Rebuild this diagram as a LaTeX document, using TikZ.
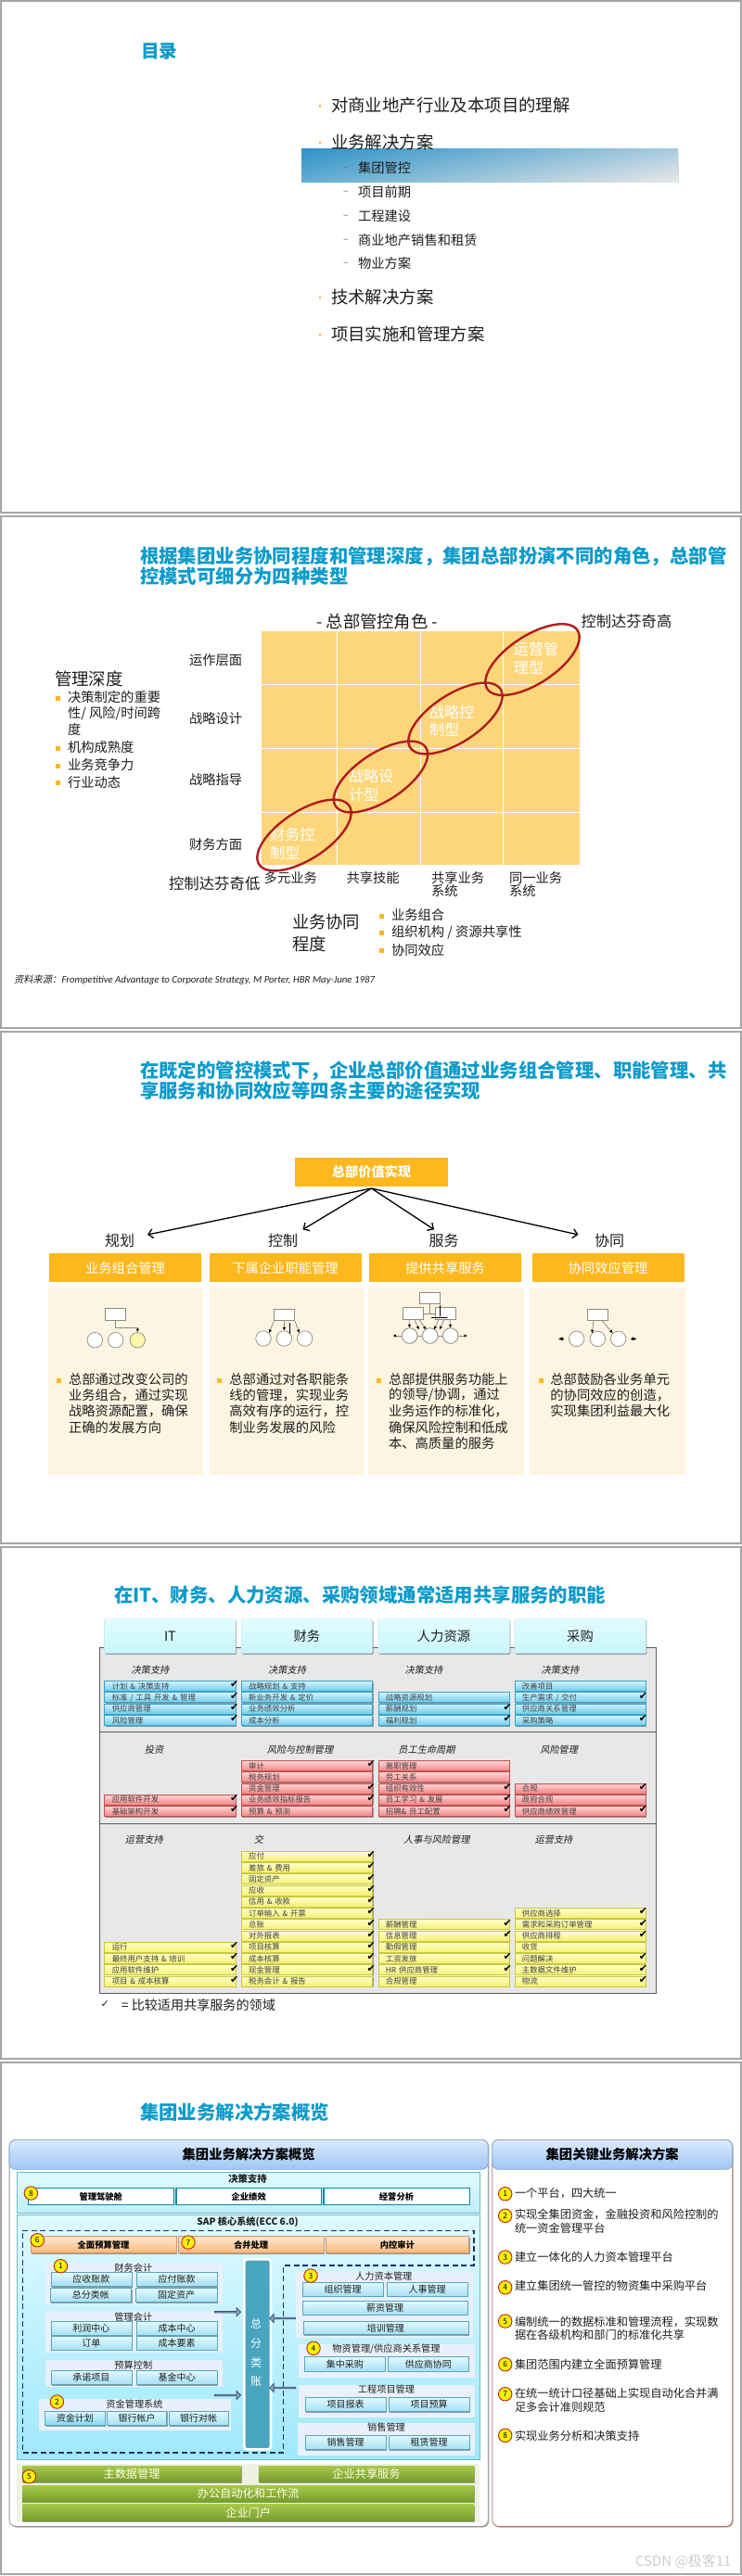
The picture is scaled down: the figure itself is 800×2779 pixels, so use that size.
\documentclass[tikz,border=0pt]{standalone}
\usepackage{fontspec}
\setmainfont{Noto Sans CJK SC}
\newfontfamily\djv{DejaVu Sans}
\newfontfamily\cjksl[FakeSlant=0.2]{Noto Sans CJK SC}
\newfontfamily\carit{Carlito}
\usetikzlibrary{arrows.meta,shapes.geometric,shapes.arrows,shadows}
\definecolor{ink}{HTML}{1E1E1E}
\definecolor{ttl}{HTML}{0C9BCB}
\definecolor{frameg}{HTML}{A6A6A6}
\definecolor{ambr}{HTML}{FDB81E}
\definecolor{gridy}{HTML}{FDD67A}
\definecolor{creamy}{HTML}{FDF5E2}
\definecolor{ringr}{HTML}{B01C1E}
\definecolor{iconl}{HTML}{8C8C80}
\definecolor{bluebd}{HTML}{3BA3C6}
\definecolor{bluetop}{HTML}{D6F2FF}
\definecolor{bluebot}{HTML}{69CDEE}
\definecolor{redbd}{HTML}{C05050}
\definecolor{redtop}{HTML}{FFD6D6}
\definecolor{redbot}{HTML}{F48282}
\definecolor{yelbd}{HTML}{C8C840}
\definecolor{yeltop}{HTML}{FFFFCD}
\definecolor{yelbot}{HTML}{F5F06E}
\definecolor{btnbd}{HTML}{5AA5B9}
\definecolor{btntop}{HTML}{E2F9FF}
\definecolor{btnbot}{HTML}{A5E0F2}
\definecolor{btnbotb}{HTML}{82D7F0}
\definecolor{orgbd}{HTML}{D79664}
\definecolor{orgtop}{HTML}{FDE8D0}
\definecolor{orgbot}{HTML}{FCB87A}
\definecolor{wbd}{HTML}{0A87A5}
\definecolor{grntop}{HTML}{A6C84A}
\definecolor{grnbot}{HTML}{769B2C}
\definecolor{numbd}{HTML}{BE1E1E}
\definecolor{numfl}{HTML}{FFF200}
\definecolor{chtop}{HTML}{E2FDFF}
\definecolor{chbot}{HTML}{C8F5FA}
\definecolor{chbd}{HTML}{BEE1E8}
\definecolor{rowfl}{HTML}{E8E8E8}
\definecolor{rowbd}{HTML}{5A5A5A}
\definecolor{barbd}{HTML}{3C506E}
\definecolor{barfl}{HTML}{8EA5C3}
\definecolor{bandtl}{HTML}{2F92C8}
\definecolor{bandbl}{HTML}{62ACD2}
\definecolor{bandtr}{HTML}{A8CBE0}
\definecolor{bandbr}{HTML}{E6E6E6}
\definecolor{icony}{HTML}{FAF8AA}
\definecolor{panbd}{HTML}{969696}
\definecolor{headbd}{HTML}{78A5CD}
\definecolor{headtop}{HTML}{DCEAFC}
\definecolor{headbot}{HTML}{A0C6F4}
\definecolor{dsbd}{HTML}{6EB9C3}
\definecolor{dstop}{HTML}{E1FAFF}
\definecolor{dsbot}{HTML}{BEF0FA}
\definecolor{saptop}{HTML}{DEFAFF}
\definecolor{sapbot}{HTML}{A0E8FC}
\definecolor{grpfl}{HTML}{E8F1FB}
\definecolor{ledg}{HTML}{48A5C0}
\definecolor{dashn}{HTML}{163264}
\definecolor{greenbg}{HTML}{EEF2E0}
\definecolor{redpan}{HTML}{BE6E6E}
\definecolor{wmark}{HTML}{CDCDCD}
\newcounter{tn}
\tikzset{
 txt/.style={anchor=west,inner sep=0pt,outer sep=0pt,text=ink},
 softshadow/.style={drop shadow={shadow xshift=1pt,shadow yshift=-1.2pt,opacity=.35,fill=black}},
 itemb/.style={draw=#1,line width=.7pt,inner ysep=0pt,inner xsep=8pt,anchor=west,minimum height=11pt,text width=125.5pt,align=left,text=ink!85,font=\fontsize{8.4}{8.4}\selectfont,softshadow},
 itemblue/.style={itemb=bluebd,top color=bluetop,bottom color=bluebot},
 itemred/.style={itemb=redbd,top color=redtop,bottom color=redbot},
 itemyel/.style={itemb=yelbd,top color=yeltop,bottom color=yelbot},
 chk/.style={anchor=center,inner sep=0pt,text=black,font=\djv\fontsize{11}{11}\selectfont},
 grp/.style={fill=grpfl,draw=none,anchor=north west,inner sep=0pt},
 btn/.style={anchor=north west,inner sep=0pt,draw=btnbd,line width=.7pt,top color=btntop,bottom color=btnbot,softshadow,text=ink,font=\fontsize{10}{10}\selectfont},
 orng/.style={anchor=north west,inner sep=0pt,draw=orgbd,line width=.6pt,top color=orgtop,bottom color=orgbot,softshadow,text=black,font=\bfseries\fontsize{9.3}{9.3}\selectfont},
 wbtn/.style={anchor=north west,inner sep=0pt,draw=wbd,line width=1.2pt,fill=white,text=black,font=\bfseries\fontsize{9.3}{9.3}\selectfont},
 grn/.style={anchor=north west,inner sep=0pt,draw=none,top color=grntop,bottom color=grnbot,softshadow,text=white!90!yellow,font=\fontsize{12.2}{12.2}\selectfont},
 numc/.style={circle,draw=numbd,line width=.9pt,fill=numfl,inner sep=0pt,minimum size=14.5pt,text=black,font=\fontsize{8.5}{8.5}\selectfont},
 hdrbox/.style={anchor=north west,inner sep=0pt,fill=ambr,text=white,draw=white,line width=2pt,drop shadow={shadow xshift=.6pt,shadow yshift=-.8pt,opacity=.3,fill=black}},
 colhead/.style={anchor=north west,inner sep=0pt,rounded corners=1pt,top color=chtop,bottom color=chbot,draw=chbd,line width=.5pt,softshadow,text=ink,font=\fontsize{14.3}{14.3}\selectfont},
 rowpan/.style={anchor=north west,inner sep=0pt,fill=rowfl,draw=rowbd,line width=.9pt},
 blockR/.style={single arrow,draw=barbd,line width=.8pt,fill=barfl,inner sep=0pt,minimum width=9pt,minimum height=28pt,single arrow head extend=2pt,single arrow head indent=0pt},
 iconbox/.style={draw=iconl,fill=white,line width=.8pt,inner sep=0pt,minimum width=22pt,minimum height=12.5pt},
 iconc/.style={circle,draw=iconl,fill=white,line width=.7pt,inner sep=0pt,minimum size=16.5pt},
 iconar/.style={draw=iconl,line width=.8pt,-{Latex[length=3.5pt,width=3.5pt,black]}},
 iconln/.style={draw=iconl,line width=.8pt},
 sidear/.style={black,line width=.5pt,-{Latex[length=5pt,width=4pt,black]}},
 ringst/.style={ellipse,draw=ringr,line width=2.4pt,rotate=33,inner sep=0pt,minimum width=116pt,minimum height=52pt},
 bigarrow/.style={draw=black,line width=1.3pt,-{Straight Barb[length=5pt,width=10pt,line width=1.3pt]}},
 bul/.style={fill=ambr,inner sep=0pt,minimum width=#1,minimum height=#1,anchor=center,draw=none},
}
\newcommand{\TX}[5][]{\stepcounter{tn}\node[txt,font=\fontsize{#4}{#4}\selectfont,#1] (t\thetn) at (#2,#3) {#5};}
\newcommand{\TTL}[3]{\TX[text=ttl,font=\bfseries\fontsize{20.4}{20.4}\selectfont]{#1}{#2}{20.4}{#3}}
\newcommand{\BXX}[6]{\pgfmathsetmacro\bw{#3-(#1)}\pgfmathsetmacro\bh{#4-(#2)}\stepcounter{tn}\node[#5,minimum width=\bw pt,minimum height=\bh pt] (b\thetn) at (#1,#2) {#6};}
\newcommand{\BU}[3]{\stepcounter{tn}\node[bul=#3pt] (u\thetn) at (#1,#2) {};}
\newcommand{\NUM}[3]{\stepcounter{tn}\node[numc] (n\thetn) at (#1,#2) {#3};}
\newcommand{\colL}[1]{\ifcase#1\or112.4\or259.8\or407.5\or554.5\fi}
\newcommand{\colR}[1]{\ifcase#1\or252.8\or400.2\or547.2\or693.5\fi}
\newcommand{\ITM}[5]{\stepcounter{tn}\node[#1] (i\thetn) at (\colL{#2},#3) {#4};\ifnum#5=1 \node[chk] (k\thetn) at (\colR{#2},#3-1.5) {✔};\fi}
\newcommand{\IB}[4]{\pgfmathsetmacro\yy{1819+12.3*#2}\ITM{itemblue}{#1}{\yy}{#3}{#4}}
\newcommand{\IR}[4]{\pgfmathsetmacro\yy{1905+12.25*#2}\ITM{itemred}{#1}{\yy}{#3}{#4}}
\newcommand{\IY}[4]{\pgfmathsetmacro\yy{2002.7+12.24*#2}\ITM{itemyel}{#1}{\yy}{#3}{#4}}
\newcommand{\SEC}[3]{\TX[anchor=center,font=\cjksl\fontsize{10.2}{10.2}\selectfont]{#1}{#2}{10.2}{#3}}
\begin{document}
\begin{tikzpicture}[x=1pt,y=-1pt]
\useasboundingbox (0,0) rectangle (800,2779);
\fill[white] (0,0) rectangle (800,2779);
\foreach \a/\b in {1/553,557/1109,1113/1665,1669/2221,2225/2777}
  \draw[frameg,line width=2pt] (1,\a) rectangle (799,\b);

%% ---- slide 1
\TX[text=ttl,font=\bfseries\fontsize{19.6}{19.6}\selectfont]{152}{55}{19.6}{目录}
\foreach \i in {0,...,17}{
  \pgfmathsetmacro\pct{100-\i*100/17}
  \pgfmathsetmacro\yt{160+2*\i}
  \shade[left color=bandtl!\pct!bandbl,right color=bandtr!\pct!bandbr] (325,\yt) rectangle (731,196);
}
\foreach \y/\s in {113.6/对商业地产行业及本项目的理解,153/业务解决方案,320/技术解决方案,360/项目实施和管理方案}{
  \TX{357}{\y}{18.4}{\s}
  \BU{345}{\y+1}{2.4}
}
\foreach \y/\s in {181/集团管控,207/项目前期,233/工程建设,259/商业地产销售和租赁,284/物业方案}{
  \TX{386}{\y}{14.3}{\s}
  \TX[text=ink!70]{370}{\y+1}{10}{–}
}

%% ---- slide 2
\TTL{151}{600}{根据集团业务协同程度和管理深度，集团总部扮演不同的角色，总部管}
\TTL{151}{622}{控模式可细分为四种类型}
\fill[gridy] (282,680.7) rectangle (624.5,933);
\foreach \x in {363,453,542} \draw[white,line width=1pt] (\x,680.7) -- (\x,933);
\foreach \y in {738,807,876} \draw[white,line width=1pt] (282,\y) -- (624.5,\y);
\TX[anchor=center]{406.6}{671}{18.3}{- 总部管控角色 -}
\TX{626.5}{670}{16.3}{控制达芬奇高}
\TX{204}{712.5}{14.3}{运作层面}
\TX{204}{775}{14.3}{战略设计}
\TX{204}{841}{14.3}{战略指导}
\TX{204}{911}{14.3}{财务方面}
\TX{59}{732}{18.4}{管理深度}
\foreach \y/\s in {752.5/决策制定的重要,806/机构成熟度,825/业务竞争力,843.6/行业动态}{
  \TX{73}{\y}{14.3}{\s}
  \BU{62.5}{\y+1}{5}
}
\TX{73}{770}{14.3}{性/ 风险/时间跨}
\TX{73}{787.5}{14.3}{度}
\TX[text=white]{291}{900.7}{16.2}{财务控}
\TX[text=white]{291}{920}{16.2}{制型}
\TX[text=white]{376}{837}{16.2}{战略设}
\TX[text=white]{376}{857}{16.2}{计型}
\TX[text=white]{463}{768}{16.2}{战略控}
\TX[text=white]{463}{787}{16.2}{制型}
\TX[text=white]{553.6}{700.7}{16.2}{运营管}
\TX[text=white]{553.6}{720}{16.2}{理型}
\node[ringst] (ring1) at (328,901) {};
\node[ringst] (ring2) at (410.5,838) {};
\node[ringst] (ring3) at (491,775) {};
\node[ringst] (ring4) at (574,711.6) {};
\TX{182}{953.6}{16.4}{控制达芬奇低}
\TX{284.7}{947}{14.3}{多元业务}
\TX{373.5}{947}{14.3}{共享技能}
\TX{465}{947}{14.3}{共享业务}
\TX{465}{961.4}{14.3}{系统}
\TX{549}{947}{14.3}{同一业务}
\TX{549}{961.4}{14.3}{系统}
\TX{315}{995}{18.3}{业务协同}
\TX{315}{1018}{18.3}{程度}
\TX{422}{987}{14.3}{业务组合}\BU{411}{988}{5}
\TX{422}{1005.7}{14.3}{组织机构 / 资源共享性}\BU{411}{1006.7}{5}
\TX{422}{1024.6}{14.3}{协同效应}\BU{411}{1025.6}{5}
\TX[font=\cjksl\fontsize{10.3}{10.3}\selectfont]{15}{1057}{10.3}{资料来源：{\carit\itshape\fontsize{10.8}{10.8}\selectfont Frompetitive Advantage to Corporate Strategy, M Porter, HBR May-June 1987}}

%% ---- slide 3
\TTL{151}{1155.7}{在既定的管控模式下，企业总部价值通过业务组合管理、职能管理、共}
\TTL{151}{1177}{享服务和协同效应等四条主要的途径实现}
\node[hdrbox,minimum width=167pt,minimum height=33pt,font=\bfseries\fontsize{14.2}{14.2}\selectfont] (top) at (316,1247) {总部价值实现};
\coordinate (a1) at (159,1332);
\coordinate (a2) at (326.5,1326.4);
\coordinate (a3) at (468,1326.4);
\coordinate (a4) at (623.5,1332);
\foreach \c in {a1,a2,a3,a4} \draw[bigarrow] (top.south) -- (\c);
\TX[anchor=center]{129}{1338.6}{16}{规划}
\TX[anchor=center]{305}{1338.6}{16}{控制}
\TX[anchor=center]{478.6}{1338.6}{16}{服务}
\TX[anchor=center]{657}{1338.6}{16}{协同}
\foreach \xa/\xb in {51.5/219.4,225.5/393,397/565,571.4/739} { \fill[creamy] (\xa,1389.3) rectangle (\xb,1590.7); }
\foreach \xa/\s in {51/业务组合管理,223.5/下属企业职能管理,396/提供共享服务,571.5/协同效应管理}{
  \BXX{\xa}{1350.2}{\xa+166}{1383.2}{hdrbox,font=\fontsize{14.3}{14.3}\selectfont}{\s}
}
% icon 1
\node[iconbox] (ia) at (124.5,1418) {};
\node[iconc] (ia1) at (102.3,1445.7) {};
\node[iconc] (ia2) at (124.7,1445.7) {};
\node[iconc,fill=icony] (ia3) at (148.3,1445.7) {};
\coordinate (iaj) at (148.3,1432);
\draw[iconar] (ia.south) |- (iaj) -- (ia3.north);
% icon 2
\node[iconbox] (ib) at (306.7,1418.6) {};
\node[iconc] (ib1) at (284,1444) {};
\node[iconc] (ib2) at (306.3,1444) {};
\node[iconc] (ib3) at (328.7,1444) {};
\draw[iconar] (ib.south west) -- (ib1.north east);
\draw[iconar] (ib.south) -- (ib2.north);
\draw[iconar] (ib.south east) -- (ib3.north west);
\coordinate (bt) at (312.3,1426.7); \coordinate (bb) at (312.3,1439);
\draw[black,line width=1.3pt] (bt) -- (bb);
% icon 3
\node[iconbox] (ic) at (463,1400.3) {};
\node[iconbox] (icl) at (445.5,1417) {};
\node[iconbox] (icr) at (480.5,1417) {};
\node[iconc] (ic1) at (441.7,1441) {};
\node[iconc] (ic2) at (463.7,1441) {};
\node[iconc] (ic3) at (485.7,1441) {};
\draw[iconln] (ic.south) -- (463,1417);
\draw[iconln] (icl.east) -- (icr.west);
\draw[iconln] (ic1) -- (ic2);
\draw[iconln] (ic2) -- (ic3);
\node[iconc] (ic2b) at (ic2) {};
\node[iconc] (ic1b) at (ic1) {};
\node[iconc] (ic3b) at (ic3) {};
\draw[iconar] (441,1423.3) -- (ic1.north);
\draw[iconar] (446.7,1423.3) -- (451.7,1434.3);
\draw[iconar] (451.7,1423.3) -- (459.3,1434.3);
\draw[iconar] (473,1423.3) -- (468,1434.3);
\draw[iconar] (479,1423.3) -- (474,1434.3);
\draw[iconar] (485,1423.3) -- (ic3.north);
\draw[iconar] (ic1.west) -- (423.5,1441);
\draw[iconar] (ic3.east) -- (504,1441);
\draw[black,line width=1.3pt] (474.3,1408) -- (474.3,1420);
\draw[black,line width=1.5pt] (465,1421.7) -- (481.7,1421.7);
% icon 4
\node[iconbox] (id) at (644.5,1418.3) {};
\node[iconc] (id1) at (621.7,1444.3) {};
\node[iconc] (id2) at (644.3,1444.3) {};
\node[iconc] (id3) at (666.7,1444.3) {};
\draw[iconar] (640,1424.6) -- (id2.north west);
\draw[iconar] (649,1424.6) -- (id3.north west);
\draw[sidear] (608,1444.3) -- (601.7,1444.3);
\draw[sidear] (680,1444.3) -- (686.7,1444.3);
% body text
\BU{63}{1489}{5}
\foreach \y/\s in {1488/总部通过改变公司的,1505/业务组合，通过实现,1522.5/战略资源配置，确保,1540/正确的发展方向} {\TX{74}{\y}{14.3}{\s}}
\BU{236.7}{1489}{5}
\foreach \y/\s in {1488/总部通过对各职能条,1505/线的管理，实现业务,1522.5/高效有序的运行，控,1540/制业务发展的风险} {\TX{247.4}{\y}{14.3}{\s}}
\BU{408.7}{1489}{5}
\TX{419}{1488}{14.3}{总部提供服务功能上}
\TX{419}{1505}{14.3}{的领导/协调，通过}
\TX{419}{1522.5}{14.3}{业务运作的标准化，}
\TX{419}{1540}{14.3}{确保风险控制和低成}
\TX{419}{1557}{14.3}{本、高质量的服务}
\BU{583}{1489}{5}
\foreach \y/\s in {1488/总部鼓励各业务单元,1505/的协同效应的创造，,1522.5/实现集团利益最大化} {\TX{593.4}{\y}{14.3}{\s}}

%% ---- slide 4
\TTL{123}{1721}{在IT、财务、人力资源、采购领域通常适用共享服务的职能}
\BXX{106.7}{1776.7}{707}{1868.3}{rowpan}{}
\BXX{106.7}{1868.3}{707}{1966.7}{rowpan}{}
\BXX{106.7}{1966.7}{707}{2150}{rowpan}{}
\foreach \i/\s in {1/IT,2/财务,3/人力资源,4/采购}{
  \BXX{\colL{\i}}{1746.7}{\colL{\i}+141.5}{1783.3}{colhead}{\s}
}
\SEC{162}{1801.7}{决策支持}\SEC{309.6}{1801.7}{决策支持}\SEC{457}{1801.7}{决策支持}\SEC{604}{1801.7}{决策支持}
\SEC{166}{1887.7}{投资}\SEC{323.5}{1887.7}{风险与控制管理}\SEC{460}{1887.7}{员工生命周期}\SEC{602.7}{1887.7}{风险管理}
\SEC{155.3}{1985}{运营支持}\SEC{279}{1985}{交}\SEC{470.8}{1985}{人事与风险管理}\SEC{597}{1985}{运营支持}
% blue
\IB{1}{0}{计划 \& 决策支持}{1}\IB{1}{1}{标准 / 工具 开发 \& 管理}{1}\IB{1}{2}{供应商管理}{1}\IB{1}{3}{风险管理}{1}
\IB{2}{0}{战略规划 \& 支持}{0}\IB{2}{1}{新业务开发 \& 定价}{0}\IB{2}{2}{业务绩效分析}{0}\IB{2}{3}{成本分析}{0}
\IB{3}{1}{战略资源规划}{0}\IB{3}{2}{薪酬规划}{1}\IB{3}{3}{福利规划}{1}
\IB{4}{0}{改善项目}{0}\IB{4}{1}{生产需求 / 交付}{1}\IB{4}{2}{供应商关系管理}{0}\IB{4}{3}{采购策略}{1}
% red
\IR{1}{3}{应用软件开发}{1}\IR{1}{4}{基础架构开发}{1}
\IR{2}{0}{审计}{1}\IR{2}{1}{税务规划}{0}\IR{2}{2}{资金管理}{1}\IR{2}{3}{业务绩效指标报告}{1}\IR{2}{4}{预算 \& 预测}{0}
\IR{3}{0}{离职管理}{0}\IR{3}{1}{劳工关系}{0}\IR{3}{2}{组织有效性}{1}\IR{3}{3}{员工学习 \& 发展}{1}\IR{3}{4}{招聘\& 员工配置}{1}
\IR{4}{2}{合规}{1}\IR{4}{3}{政府合规}{0}\IR{4}{4}{供应商绩效管理}{1}
% yellow
\IY{1}{8}{运行}{1}\IY{1}{9}{最终用户支持 \& 培训}{1}\IY{1}{10}{应用软件维护}{1}\IY{1}{11}{项目 \& 成本核算}{1}
\IY{2}{0}{应付}{1}\IY{2}{1}{差旅 \& 费用}{1}\IY{2}{2}{固定资产}{1}\IY{2}{3}{应收}{1}\IY{2}{4}{信用 \& 收款}{1}\IY{2}{5}{订单输入 \& 开票}{1}
\IY{2}{6}{总账}{1}\IY{2}{7}{对外报表}{1}\IY{2}{8}{项目核算}{1}\IY{2}{9}{成本核算}{1}\IY{2}{10}{现金管理}{1}\IY{2}{11}{税务会计 \& 报告}{0}
\IY{3}{6}{薪酬管理}{1}\IY{3}{7}{信息管理}{1}\IY{3}{8}{勤假管理}{0}\IY{3}{9}{工资发放}{1}\IY{3}{10}{HR 供应商管理}{1}\IY{3}{11}{合规管理}{0}
\IY{4}{5}{供应商选择}{1}\IY{4}{6}{需求和采购订单管理}{1}\IY{4}{7}{供应商排程}{1}\IY{4}{8}{收货}{0}\IY{4}{9}{问题解决}{1}\IY{4}{10}{主数据文件维护}{1}\IY{4}{11}{物流}{1}
\TX[font=\djv\fontsize{11}{11}\selectfont]{108.5}{2161.7}{11}{✓}
\TX{130.8}{2163}{14.1}{= 比较适用共享服务的领域}

%% ---- slide 5
\TX[text=ttl,font=\bfseries\fontsize{20.4}{20.4}\selectfont]{151}{2278.3}{20.4}{集团业务解决方案概览}
% left panel
\node[anchor=north west,inner sep=0pt,minimum width=516.2pt,minimum height=417pt,draw=panbd,line width=.8pt,fill=white,rounded corners=7pt,softshadow] (leftp) at (9.7,2308) {};
\node[anchor=north west,inner sep=0pt,minimum width=516.2pt,minimum height=32pt,draw=headbd,line width=.7pt,top color=headtop,bottom color=headbot,rounded corners=7pt,font=\bfseries\fontsize{14.3}{14.3}\selectfont,text=black] (lefth) at (9.7,2308) {集团业务解决方案概览};
% decision support
\BXX{18}{2342.7}{516.6}{2386.7}{anchor=north west,inner sep=0pt,draw=dsbd,line width=.7pt,top color=dstop,bottom color=dsbot}{}
\TX[anchor=center,font=\bfseries\fontsize{10.3}{10.3}\selectfont]{267}{2350.7}{10.3}{决策支持}
\BXX{29.7}{2360}{186.6}{2377.7}{wbtn}{管理驾驶舱}
\BXX{189.3}{2360}{345.9}{2377.7}{wbtn}{企业绩效}
\BXX{348.3}{2360}{505.5}{2377.7}{wbtn}{经营分析}
\NUM{33.4}{2366}{8}
% SAP
\BXX{18}{2389}{516.6}{2652.7}{anchor=north west,inner sep=0pt,draw=dsbd,line width=.7pt,top color=saptop,bottom color=sapbot}{}
\TX[anchor=center,font=\bfseries\fontsize{10.2}{10.2}\selectfont]{267}{2397}{10.2}{SAP 核心系统(ECC 6.0)}
\BXX{32.8}{2412.3}{189.7}{2430}{orng}{全面预算管理}
\BXX{192}{2412.3}{348.6}{2430}{orng}{合并处理}
\BXX{351}{2412.3}{505.2}{2430}{orng}{内控审计}
\NUM{40.3}{2416.7}{6}
\NUM{203}{2419}{7}
% groups left
\BXX{48.3}{2440.7}{239.7}{2485.7}{grp}{}
\BXX{48.3}{2493.3}{239.7}{2537.3}{grp}{}
\BXX{48.3}{2546}{239.7}{2575}{grp}{}
\BXX{42}{2587.7}{248.3}{2621.7}{grp}{}
\TX[anchor=center]{143.8}{2446.7}{10.2}{财务会计}
\TX[anchor=center]{143.8}{2499.3}{10.2}{管理会计}
\TX[anchor=center]{143.8}{2552}{10.2}{预算控制}
\TX[anchor=center]{145}{2593.3}{10.2}{资金管理系统}
\BXX{54.5}{2451.3}{141.7}{2466}{btn}{应收账款}
\BXX{146.6}{2451.3}{234}{2466}{btn}{应付账款}
\BXX{54}{2468.3}{141.2}{2483.3}{btn}{总分类帐}
\BXX{146}{2468.3}{233.5}{2483.3}{btn}{固定资产}
\BXX{54.5}{2504}{141.7}{2518.7}{btn}{利润中心}
\BXX{146.6}{2504}{234}{2518.7}{btn}{成本中心}
\BXX{54.5}{2520}{141.7}{2534.7}{btn}{订单}
\BXX{146.6}{2520}{234}{2534.7}{btn}{成本要素}
\BXX{54.5}{2556.7}{141.7}{2572}{btn}{承诺项目}
\BXX{146.6}{2556.7}{234}{2572}{btn}{基金中心}
\BXX{48.3}{2600.7}{112.8}{2616}{btn,bottom color=btnbotb}{资金计划}
\BXX{115.2}{2600.7}{179.3}{2616}{btn}{银行帐户}
\BXX{181.7}{2600.7}{245.9}{2616}{btn}{银行对帐}
\NUM{65.5}{2444.7}{1}
\NUM{61.4}{2591}{2}
% ledger column
\node[anchor=north west,inner sep=0pt,minimum width=28.7pt,minimum height=205pt,fill=ledg,draw=white,line width=2.6pt,rounded corners=3pt] (ledger) at (262,2436) {};
\foreach \y/\s in {2506.7/总,2527.7/分,2549/类,2569/账}{ \TX[anchor=center,text=white]{276}{\y}{12}{\s} }
% block arrows
\node[blockR] (ar1) at (245.2,2494.3) {};
\node[blockR] (ar2) at (245.2,2584) {};
\node[blockR,shape border rotate=180] (ar3) at (305,2501) {};
\node[blockR,shape border rotate=180] (ar4) at (305,2576) {};
% groups right
\BXX{319}{2451}{509.7}{2521.7}{grp}{}
\BXX{321.7}{2528.3}{512}{2564.3}{grp}{}
\BXX{321.7}{2572.3}{512}{2608}{grp}{}
\BXX{321}{2613.3}{512}{2649}{grp}{}
\TX[anchor=center]{413.8}{2456}{10.2}{人力资本管理}
\TX[anchor=center]{416.5}{2534}{10.2}{物资管理/供应商关系管理}
\TX[anchor=center]{416.5}{2578}{10.2}{工程项目管理}
\TX[anchor=center]{416.5}{2618.7}{10.2}{销售管理}
\BXX{325.9}{2461.7}{412.8}{2476.7}{btn}{组织管理}
\BXX{416.6}{2461.7}{503.8}{2476.7}{btn}{人事管理}
\BXX{325.9}{2482}{503.8}{2496.7}{btn}{薪资管理}
\BXX{326.5}{2503.7}{504.5}{2518.3}{btn}{培训管理}
\BXX{328}{2542.3}{415}{2557.7}{btn}{集中采购}
\BXX{418}{2542.3}{505}{2557.7}{btn}{供应商协同}
\BXX{328.6}{2586}{416}{2601.3}{btn}{项目报表}
\BXX{418.6}{2586}{505.9}{2601.3}{btn}{项目预算}
\BXX{328.6}{2626.7}{416}{2642.3}{btn}{销售管理}
\BXX{418.6}{2626.7}{505.9}{2642.3}{btn}{租赁管理}
\NUM{335}{2455}{3}
\NUM{338}{2533.3}{4}
% dashed outline
\draw[draw=dashn,line width=1.1pt,dash pattern=on 6pt off 3.5pt] (24.1,2406.7) -- (511,2406.7) -- (511,2444) -- (305.2,2444) -- (305.2,2646) -- (24.1,2646) -- cycle;
% green
\fill[greenbg] (18.3,2657.7) rectangle (516.6,2721.3);
\BXX{24}{2660}{259.7}{2677.3}{grn}{主数据管理}
\BXX{278.6}{2660}{511}{2677.3}{grn}{企业共享服务}
\BXX{24}{2681}{511}{2699}{grn}{办公自动化和工作流}
\BXX{24}{2701.3}{511}{2719.3}{grn}{企业门户}
\NUM{31.4}{2671.7}{5}
% right panel
\node[anchor=north west,inner sep=0pt,minimum width=259pt,minimum height=417pt,draw=redpan,line width=.8pt,fill=white,rounded corners=7pt,softshadow] (rightp) at (530.3,2308) {};
\node[anchor=north west,inner sep=0pt,minimum width=259pt,minimum height=32pt,draw=headbd,line width=.7pt,top color=headtop,bottom color=headbot,rounded corners=7pt,font=\bfseries\fontsize{14.3}{14.3}\selectfont,text=black] (righth) at (530.3,2308) {集团关键业务解决方案};
\NUM{544.7}{2366.7}{1}\TX{555}{2366}{12.2}{一个平台，四大统一}
\NUM{544.7}{2390.3}{2}\TX{555}{2388.7}{12.2}{实现全集团资金，金融投资和风险控制的}\TX{555}{2403.7}{12.2}{统一资金管理平台}
\NUM{544.7}{2435}{3}\TX{555}{2434.7}{12.2}{建立一体化的人力资本管理平台}
\NUM{544.7}{2467.7}{4}\TX{555}{2466}{12.2}{建立集团统一管控的物资集中采购平台}
\NUM{544.7}{2504}{5}\TX{555}{2505}{12.2}{编制统一的数据标准和管理流程，实现数}\TX{555}{2519.3}{12.2}{据在各级机构和部门的标准化共享}
\NUM{544.7}{2550.7}{6}\TX{555}{2550.7}{12.2}{集团范围内建立全面预算管理}
\NUM{544.7}{2582.7}{7}\TX{555}{2582.3}{12.2}{在统一统计口径基础上实现自动化合并满}\TX{555}{2597}{12.2}{足多会计准则规范}
\NUM{544.7}{2627.3}{8}\TX{555}{2628.3}{12.2}{实现业务分析和决策支持}
% watermark
\TX[text=wmark]{685}{2763.3}{15}{CSDN @极客11}
\end{tikzpicture}
\end{document}
